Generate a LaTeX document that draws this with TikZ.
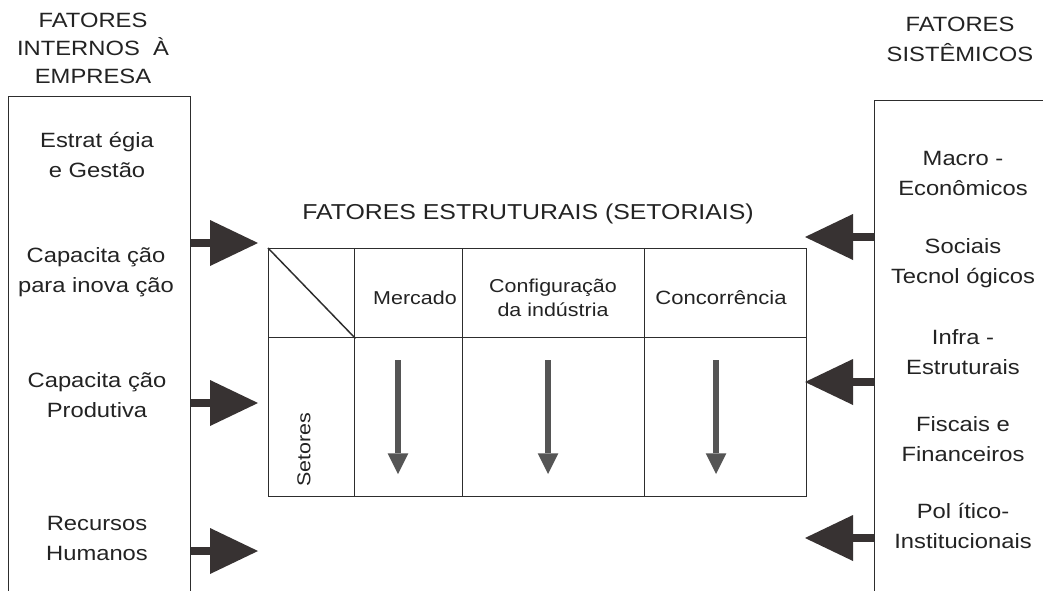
\documentclass[tikz,border=0pt]{standalone}
\usepackage{fontspec}
\setmainfont{Liberation Sans}[FakeStretch=1.15]
\usetikzlibrary{arrows.meta}

\begin{document}
\begin{tikzpicture}[x=0.75pt, y=-0.75pt,
  box_line/.style={draw=line_color, line width=1.1pt},
  cell/.style={box_line, anchor=north west, inner sep=0pt},
  head_text/.style={align=center, text=text_color, font=\fontsize{15.5}{21}\selectfont},
  side_text/.style={align=center, text=text_color, font=\fontsize{15.5}{22.5}\selectfont},
  cell_text/.style={align=center, text=text_color, font=\fontsize{14}{18}\selectfont},
  big_arrow/.style={draw=arrow_color, line width=6pt, -{Triangle[length=36pt, width=34.5pt, line width=0pt]}},
  down_arrow/.style={draw=down_arrow_color, line width=5pt, -{Triangle[length=15.5pt, width=15.5pt, line width=0pt]}}
]
\definecolor{text_color}{RGB}{35,35,35}
\definecolor{line_color}{RGB}{45,45,45}
\definecolor{arrow_color}{RGB}{55,50,50}
\definecolor{down_arrow_color}{RGB}{85,85,85}

\useasboundingbox[fill=white] (0,0) rectangle (1043,590);

% side boxes (open at the bottom of the page)
\node[cell, minimum width=136.5pt, minimum height=372pt] (interno) at (8,96) {};
\node[cell, minimum width=150pt, minimum height=369pt] (sistemico) at (874,100) {};

\node[head_text] (h_interno) at (93,48) {FATORES\\INTERNOS\ \ À\\EMPRESA};
\node[head_text, font=\fontsize{15.5}{22.5}\selectfont] (h_sistemico) at (960,39) {FATORES\\SISTÊMICOS};

\node[side_text] (estrategia) at (97,155) {Estrat égia\\e Gestão};
\node[side_text] (inovacao) at (96,272) {Capacita ção\\para inova ção};
\node[side_text] (produtiva) at (97,395) {Capacita ção\\Produtiva};
\node[side_text] (recursos) at (97,538) {Recursos\\Humanos};

\node[side_text] (macro) at (963,173) {Macro -\\Econômicos};
\node[side_text] (sociais) at (963,263) {Sociais\\Tecnol ógicos};
\node[side_text] (infra) at (963,352) {Infra -\\Estruturais};
\node[side_text] (fiscais) at (963,439) {Fiscais e\\Financeiros};
\node[side_text] (politico) at (963,526) {Pol ítico-\\Institucionais};

% sector table
\node[head_text, font=\fontsize{16.2}{21}\selectfont] (titulo) at (528,214) {FATORES ESTRUTURAIS (SETORIAIS)};

\node[cell, minimum width=64.5pt, minimum height=66.75pt] (canto) at (268,248) {};
\node[cell, minimum width=81pt, minimum height=66.75pt] (mercado) at (354,248) {};
\node[cell, minimum width=136.5pt, minimum height=66.75pt] (config) at (462,248) {};
\node[cell, minimum width=121.5pt, minimum height=66.75pt] (concor) at (644,248) {};
\node[cell, minimum width=64.5pt, minimum height=119.25pt] (setores) at (268,337) {};
\node[cell, minimum width=81pt, minimum height=119.25pt] (b_mercado) at (354,337) {};
\node[cell, minimum width=136.5pt, minimum height=119.25pt] (b_config) at (462,337) {};
\node[cell, minimum width=121.5pt, minimum height=119.25pt] (b_concor) at (644,337) {};

\draw[box_line] (canto.north west) -- (canto.south east);

\node[cell_text] at (415,298) {Mercado};
\node[cell_text] at (553,298) {Configuração\\da indústria};
\node[cell_text, font=\fontsize{14.4}{18}\selectfont] at (721,298) {Concorrência};
\node[cell_text, rotate=90] at (304,450) {Setores};

\coordinate (m_top) at (398,360);
\coordinate (m_end) at (398,474);
\coordinate (c_top) at (548,360);
\coordinate (c_end) at (548,474);
\coordinate (k_top) at (716,360);
\coordinate (k_end) at (716,474);
\draw[down_arrow] (m_top) -- (m_end);
\draw[down_arrow] (c_top) -- (c_end);
\draw[down_arrow] (k_top) -- (k_end);

% arrows from the side boxes
\coordinate (tip_i1) at (258,243);
\coordinate (tip_i2) at (258,403);
\coordinate (tip_i3) at (258,551);
\draw[big_arrow] (interno.east |- tip_i1) -- (tip_i1);
\draw[big_arrow] (interno.east |- tip_i2) -- (tip_i2);
\draw[big_arrow] (interno.east |- tip_i3) -- (tip_i3);

\coordinate (tip_s1) at (805,237);
\coordinate (tip_s2) at (805,382);
\coordinate (tip_s3) at (805,538);
\draw[big_arrow] (sistemico.west |- tip_s1) -- (tip_s1);
\draw[big_arrow] (sistemico.west |- tip_s2) -- (tip_s2);
\draw[big_arrow] (sistemico.west |- tip_s3) -- (tip_s3);

\end{tikzpicture}
\end{document}
